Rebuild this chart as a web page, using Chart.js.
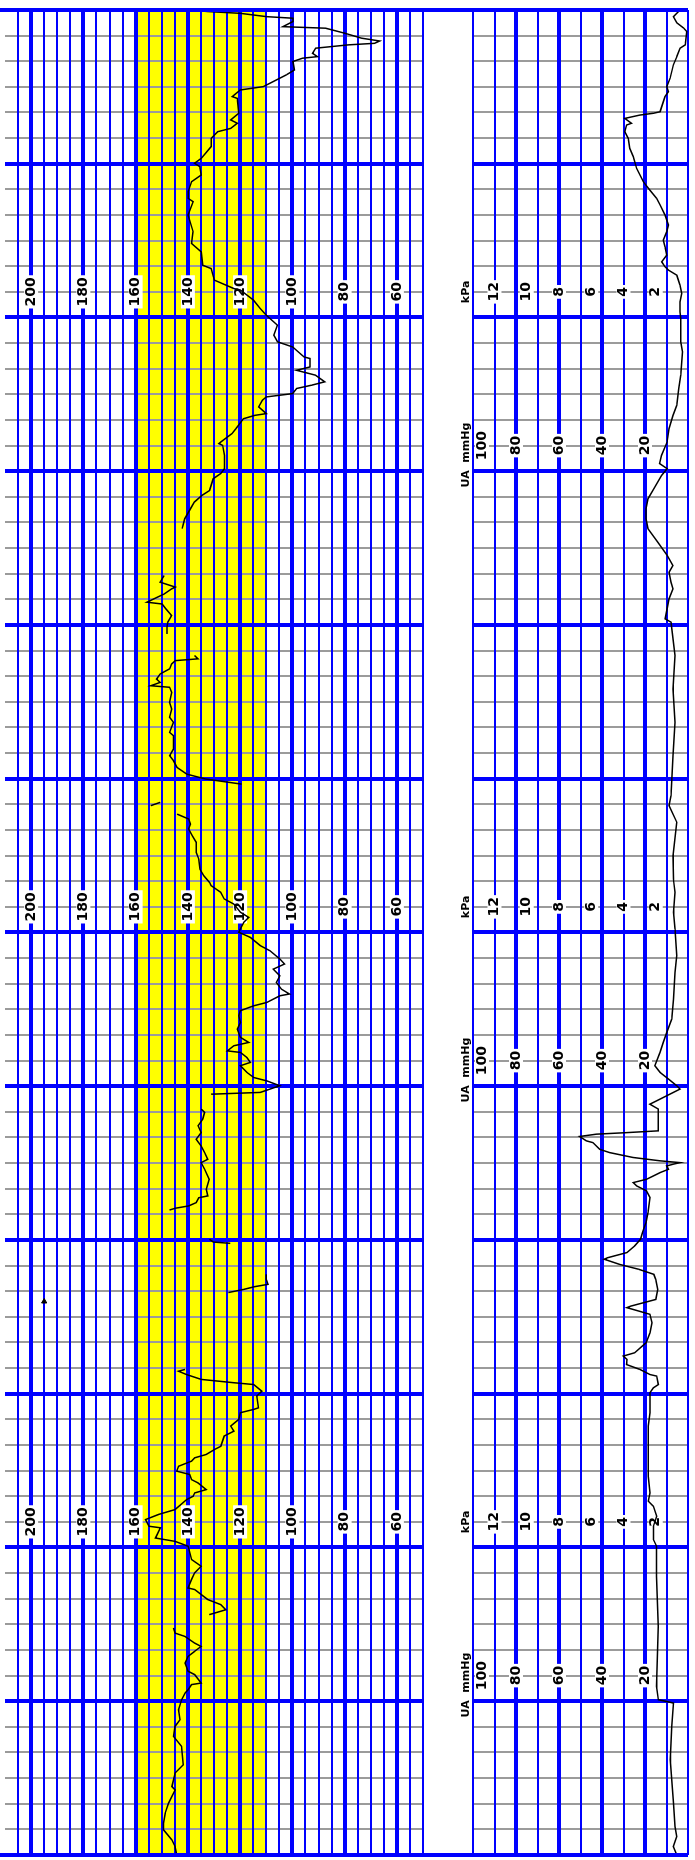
<!DOCTYPE html>
<html lang="en">

<head>
  <title>CTG strip</title>
  <meta charset="UTF-8">
  <meta name="viewport" content="width=device-width, initial-scale=1">
  <script src="https://cdn.jsdelivr.net/npm/chart.js@4.4.1/dist/chart.umd.min.js"></script>
  <style>
    html, body { margin: 0; padding: 0; background: #fff; overflow: hidden; }
    body { width: 695px; height: 1860px; position: relative; }
    /* the strip is drawn landscape and turned a quarter to the left */
    #strip { position: absolute; left: 0; top: 0; width: 1860px; height: 695px;
      transform-origin: 0 0; transform: translate(0, 1860px) rotate(-90deg); }
    #fhrChart { position: absolute; left: 0; top: 0; }
    #uaChart { position: absolute; left: 0; top: 428px; }
  </style>
</head>

<body>
  <div id="strip">
    <canvas id="fhrChart" width="1860" height="428"></canvas>
    <canvas id="uaChart" width="1860" height="267"></canvas>
  </div>
  <script>
    // time in seconds from the start of the strip, null = signal loss
    const fhrSeconds = [0, 3.3, 5.9, 9.8, 12.4, 16.3, 20.2, 25.4, 26.7, 32, 35.2, 42.4, 46.3, 50.2, 52.8, 56.7, 60.6, 63.2, 64.5, 66.5, 67.1, 70.4, 71.7, 74.9, 77.5, 79.5, 81.4, 82.7, 85.3, 86.6, 88.6,
      91,
      93.8, 95.7, 97.7, 99.7, 103.6, 104.2, 107.5, 110.1, 112.7, 115.3, 120.5, 122.4, 123.7, 127.7, 128.3, 130.9, 132.9, 134.8, 138.7, 140, 141.3, 142.6, 145.2, 146.5, 148.5, 149.8, 151.7, 153.7, 155, 156.3, 158.2, 159.5, 163.5, 165.4, 167.4, 170, 172.6, 173.9, 174.5, 179.1, 181, 183.6, 184.3, 185.6, 187.5, 188.8, 189.5,
      200,
      219.5, 220.7, 221.8, 222.7, 224.6, 226.6,
      232,
      238.7, 239.2, 240.3,
      246,
      251.7, 252.4, 253.3, 254.6, 256.5, 257.2, 259.8, 263.7, 267.6, 270.2, 271.5, 274.1, 276.7, 279.3, 281.9, 284.6, 287.2, 289.8, 291.1,
      294,
      296.9, 297.6, 300.2, 302.1, 303.4, 305.4, 308, 309.3, 311.2, 313.2, 313.8, 315.8, 317.1, 319.1, 322.3, 324.9, 327.5, 329.5, 331.4, 332.7, 335.3, 336, 337.9, 340.5, 343.1, 345.7, 347.7, 349.7, 352.9, 354.9, 358.1, 360.1, 361.4, 364, 365.9, 367.9, 371.1, 373.1, 375.7, 378.3, 379.5, 382.1, 384.7, 388.6, 391.2, 395.2, 397.7, 400.4, 402.3, 404.3, 406.2,
      408,
      409.5, 410.8,
      414,
      417.9, 419.9, 421.8, 424.4, 427, 429, 431.6, 436.8, 438.1, 442, 444, 447.2, 449.8, 453.7, 455.7, 456.3, 457.6, 458.9, 460.9, 462.9, 464.8, 466.1, 466.8, 468.1,
      472,
      476.5, 479.1, 481.1, 483.7, 486.3, 488.2, 488.9, 492.1, 494.1, 494.8, 496.7, 499.3,
      508,
      517.6, 518.9, 521.5, 525.4, 528, 530.6, 532.5, 537.1, 539.1, 541, 546.2, 550.1, 550.8, 551.4, 554.7, 556.6, 560.5, 561.8, 562.5, 565.1, 567.7, 569, 570.3, 572.3, 573.6, 574.9, 577.5, 579.4, 580.7, 584, 584.6, 588.5, 590.5, 593.1, 597, 600.9, 603.5, 606.8, 610.7, 611.3, 614.6, 619.1, 620.4, 625.6, 628.9, 633.5, 640, 645.2, 646.5, 649.1, 653, 655.6, 658.9, 660.2, 662.1, 666.7, 669.9, 672.5, 673.8, 675.8, 677.1, 679.7, 685.5, 686.2, 688.8, 690.1, 692.7, 694.7, 696.6, 699.9, 701.2, 701.8, 703.1, 705.1, 706.4, 707, 707.9, 709, 710.9, 712.9, 713.5, 715.5, 716.8, 717.4, 718.7, 719.4, 720];
    const fhrBpm = [144.3, 144.9, 146.1, 149.3, 149.3, 148.7, 147.4, 144.9, 146.1, 144.9, 141.8, 142.4, 145.5, 144.9, 143, 143.6, 142.4, 141.1, 139.9, 138.6, 134.9, 137.4, 139.9, 141.1, 139.9, 137.4, 134.9, 137.4, 141.1, 144.9, 145.5,
      null,
      131.8, 125.5, 127.4, 132.4, 137.4, 139.9, 138.6, 137.4, 134.9, 138.6, 139.9, 144.9, 152.4, 150.5, 154.9, 156.2, 151.2, 144.9, 140.5, 138, 137.4, 133, 136.1, 138.6, 139.3, 144.3, 143.6, 138.6, 137.4, 133, 129.9, 127.4, 126.1, 122.4, 123.6, 120.5, 119.9, 114.8, 113, 113.6, 111.7, 114.8, 122.4, 134.9, 140.5, 143.6, 141.1,
      null,
      124.5, 118.7, 114.4, 109.3, 110, 110,
      null,
      123.8, 130.3, 131.7,
      null,
      147, 144.8, 139.7, 136.8, 135.8, 132.4, 133, 131.8, 133.6, 134.9, 132.4, 133.6, 134.9, 136.8, 134.9, 136.1, 134.3, 133.6, 134.9,
      null,
      131.1, 112.3, 104.8, 109.8, 114.8, 117.4, 119.9, 116.1, 117.4, 119.9, 124.9, 122.4, 116.7, 119.9, 121.1, 119.9, 120.5, 119.9, 114.8, 109.8, 104.8, 101.1, 104.2, 106.1, 104.8, 107.3, 103, 104.8, 108.6, 112.3, 116.1, 120.5, 119.9, 118.6, 116.7, 119.9, 122.4, 126.1, 127.4, 131.1, 131.7, 133.9, 135.4, 135.8, 136.8, 136.8, 138.3, 139.7, 139, 139.7, 144.1,
      null,
      154.2, 150.6,
      null,
      119.4, 133.2, 140.4, 144.1, 145.5, 147, 145.5, 145.5, 147, 145.5, 147, 146.2, 147, 146.2, 147, 154.2, 150.6, 152, 150.6, 147, 146.2, 144.8, 136.1, 137.5,
      null,
      148, 148, 147.7, 146.2, 148.4, 149.9, 155.7, 149.1, 146.2, 144.8, 150.6, 149.1,
      null,
      142.2, 141.9, 141.2, 139, 137.5, 134.6, 131.7, 130.3, 127.4, 126, 126, 126.7, 128.1, 127.4, 123.1, 121.6, 118.7, 114.4, 110, 112.9, 111.5, 110, 99.9, 98.4, 92.6, 87.6, 91.2, 98.4, 93.3, 93.3, 95.5, 99.9, 105.7, 107.1, 105.7, 110, 112.3, 114.9, 119.9, 122.4, 129.9, 131.1, 134.3, 134.9, 138.6, 138, 139.9, 138, 139.9, 139.9, 138.6, 134.9, 135.5, 137.4, 134.9, 131.1, 131.1, 128.6, 123.6, 121.1, 123.6, 120.5, 121.1, 123, 119.9, 111.1, 106.1, 102.3, 99.2, 99.8, 96.1, 90.4, 92.3, 91.1, 78.5, 68.5, 66.6, 73.5, 79.8, 87.3, 103.6, 99.8, 99.8, 109.8, 119.9, 132.4, 138.6];

    const uaSeconds = [0, 3.3, 7.2, 11.1, 20.2, 29.3, 37.2, 50.2, 59.3, 59.9, 60.6, 65.8, 89.2, 108.8, 120.5, 123.1, 128.3, 132.2, 136.1, 138.1, 141.3, 147.8, 156.9, 167.4, 172.6, 180.4, 182.3, 183.6, 186.9, 187.5, 189.5, 191.4, 193.4, 194.7, 196, 199.9, 203.8, 207.7, 211, 212.3, 213.6, 214.2, 216.8, 220.7, 224.6, 226.6, 228.6, 230.5, 232.5, 233.1, 235.1, 237.7, 240.3, 242.9, 246.8, 250.7, 256.6, 259.2, 261.1, 262.4, 263.7, 265, 266.3, 267.6, 268.9, 269.6, 270.2, 270.9, 272.2, 274.1, 275.4, 278, 278.7, 280.4, 281.3, 281.9, 282.6, 291.1, 293, 295, 297.6, 298.9, 300.2, 302.8, 305.4, 308, 313.2, 317.1, 321, 326.2, 334, 344.4, 351, 361.4, 367.9, 375.7, 380.9, 389.9, 403, 409.5, 413.4, 429, 442, 455, 468.1, 481.1, 482.4, 490.2, 494.1, 496.7, 500.6, 503.2, 507.2, 512.4, 517.6, 521.5, 525.4, 529.3, 533.2, 538.4, 541, 543, 546.2, 551.4, 556.6, 561.8, 565.7, 572.3, 577.5, 586.6, 590.5, 599.6, 602.2, 606.1, 609.4, 612.6, 616.5, 618.5, 619.8, 621.7, 624.3, 627.6, 630.2, 633.5, 636.1, 640, 643.9, 646.5, 649.7, 653, 658.2, 662.8, 666, 669.9, 672.5, 675.1, 675.8, 677.7, 679, 679.7, 680.3, 686.2, 688.1, 690.1, 693.4, 698.6, 701.8, 705.1, 706.4, 711.6, 713, 715, 717.4, 720];
    const uaMmHg = [5.2, 6.8, 5.2, 6, 6.8, 7.6, 8.3, 7.6, 6.8, 9.9, 13.8, 14.6, 13.8, 14.6, 14.6, 16.1, 16.1, 14.6, 16.1, 18.5, 17.7, 18.5, 18.5, 18.5, 17.7, 17.7, 16.1, 13.8, 14.6, 17.7, 22.4, 28.6, 28.4, 30.1, 24.8, 19.5, 17.7, 16.8, 17.7, 23, 28.4, 26.6, 15, 14.1, 15, 15.9, 23, 31.9, 39, 37.3, 28.4, 24.8, 22.1, 21.2, 19.5, 18.6, 17.7, 19.3, 23.9, 25.5, 19.3, 16.1, 13, 9.1, 9.9, 6.8, 3.7, 13, 25.5, 36.4, 41.1, 44.2, 47.3, 50.4, 42.6, 28.6, 13.8, 13.8, 17.7, 13, 6.8, 3.7, 5.2, 9.1, 13, 15.4, 13, 11.5, 9.9, 7.6, 6.8, 6, 5.2, 6, 6.8, 6, 6.8, 7, 5.2, 8.8, 7.9, 7, 6.1, 7, 6.1, 7.9, 10.6, 8.8, 7, 7.9, 8.8, 7, 9.7, 14.1, 18.6, 19.5, 19.5, 18.6, 15.9, 12.3, 9.7, 13.2, 12.3, 9.7, 8.8, 7, 5.2, 4.3, 3.4, 2.6, 3.4, 3.4, 3.7, 3.7, 2.9, 3.7, 5.2, 9.1, 10.7, 12.2, 9.9, 10.7, 11.5, 9.9, 9.1, 10.7, 13, 14.6, 17.7, 20.8, 23.9, 25.5, 27.1, 27.8, 29.4, 28.6, 26.3, 29.4, 22.4, 16.1, 13, 10.7, 9.1, 9.9, 8.3, 6.8, 5.2, 3.7, 1.3, 0.6, 2.1, 5.2, 6.8, 3.7];

    const eventSeconds = [216];
    const eventBpm = [195];

    const fhrGridValues = [50, 55, 60, 65, 70, 75, 80, 85, 90, 95, 100, 105, 110, 115, 120, 125, 130, 135, 140, 145, 150, 155, 160, 165, 170, 175, 180, 185, 190, 195, 200, 205];
    const uaGridValues = [0, 10, 20, 30, 40, 50, 60, 70, 80, 90, 100];
    const fhrTickLabels = [200, 180, 160, 140, 120, 100, 80, 60];
    const uaTickLabels = [100, 80, 60, 40, 20];
    const kpaTickLabels = [12, 10, 8, 6, 4, 2];
    const fhrLabelSeconds = [130, 370, 610];
    const uaLabelSeconds = [70, 310, 550];
    const normalBand = [110, 160];

    const BLUE = '#0000ff';
    const GRAY = '#9b9b9b';
    const KPA_TO_MMHG = 7.50062;

    const timeGrid = [];
    for (let s = 0; s <= 720; s += 10) timeGrid.push(s);

    function points(xs, ys) {
      return xs.map((x, i) => ({ x: x, y: ys[i] }));
    }

    function timeAxis() {
      return {
        type: 'linear', min: 0, max: 720,
        ticks: { display: false, autoSkip: false },
        afterBuildTicks: scale => { scale.ticks = timeGrid.map(v => ({ value: v })); },
        afterFit: scale => { scale.height = 0; },
        border: { display: false },
        grid: {
          z: -1,
          drawTicks: false,
          color: c => c.tick.value % 60 === 0 ? BLUE : GRAY,
          lineWidth: c => c.tick.value % 60 === 0 ? 4 : 2
        }
      };
    }

    function valueAxis(min, max, gridValues, thickEvery) {
      return {
        type: 'linear', min: min, max: max,
        ticks: { display: false, autoSkip: false },
        afterBuildTicks: scale => { scale.ticks = gridValues.map(v => ({ value: v })); },
        afterFit: scale => { scale.width = 0; },
        border: { display: false },
        grid: {
          drawTicks: false,
          color: BLUE,
          lineWidth: c => (c.tick.value % thickEvery === 0 && c.tick.value !== min && c.tick.value !== max) ? 4 : 2
        }
      };
    }

    function drawLabel(ctx, text, x, y) {
      ctx.font = 'bold 14px "DejaVu Sans"';
      const w = ctx.measureText(text).width;
      ctx.fillStyle = '#ffffff';
      ctx.fillRect(x - w / 2 - 2, y - 7, w + 4, 14);
      ctx.fillStyle = '#000000';
      ctx.textAlign = 'center';
      ctx.textBaseline = 'middle';
      ctx.fillText(text, x, y);
    }

    // start and end of the strip run across the whole paper
    function edgeLines(toBottom) {
      return {
        id: 'edgeLines',
        afterDraw(chart) {
          const { ctx, scales, chartArea } = chart;
          ctx.save();
          ctx.strokeStyle = BLUE;
          ctx.lineWidth = 4;
          [0, 720].forEach(t => {
            const x = scales.x.getPixelForValue(t);
            ctx.beginPath();
            ctx.moveTo(x, 0);
            ctx.lineTo(x, toBottom ? chart.height : chartArea.bottom);
            ctx.stroke();
          });
          ctx.restore();
        }
      };
    }

    const fhrDecor = {
      id: 'fhrDecor',
      beforeDraw(chart) {
        const { ctx, chartArea, scales } = chart;
        const top = scales.y.getPixelForValue(normalBand[1]);
        const bottom = scales.y.getPixelForValue(normalBand[0]);
        ctx.save();
        ctx.fillStyle = '#ffff00';
        ctx.fillRect(chartArea.left, top, chartArea.right - chartArea.left, bottom - top);
        ctx.restore();
      },
      beforeDatasetsDraw(chart) {
        const { ctx, scales } = chart;
        ctx.save();
        fhrLabelSeconds.forEach(t => {
          fhrTickLabels.forEach(v => {
            drawLabel(ctx, String(v), scales.x.getPixelForValue(t), scales.y.getPixelForValue(v));
          });
        });
        ctx.restore();
      }
    };

    const uaDecor = {
      id: 'uaDecor',
      beforeDatasetsDraw(chart) {
        const { ctx, scales, chartArea } = chart;
        ctx.save();
        uaLabelSeconds.forEach(t => {
          const x = scales.x.getPixelForValue(t);
          uaTickLabels.forEach(v => {
            let y = scales.y.getPixelForValue(v);
            if (v === 100) y += 9;
            drawLabel(ctx, String(v), x, y);
          });
          ctx.font = 'bold 11px "DejaVu Sans"';
          ctx.fillStyle = '#000000';
          ctx.textAlign = 'right';
          ctx.textBaseline = 'bottom';
          ctx.fillText('UA  mmHg', x + 23, chartArea.top - 1);
        });
        fhrLabelSeconds.forEach(t => {
          const x = scales.x.getPixelForValue(t);
          kpaTickLabels.forEach(v => {
            drawLabel(ctx, String(v), x, scales.y.getPixelForValue(v * KPA_TO_MMHG));
          });
          ctx.font = 'bold 11px "DejaVu Sans"';
          ctx.fillStyle = '#000000';
          ctx.textAlign = 'center';
          ctx.textBaseline = 'bottom';
          ctx.fillText('kPa', x, chartArea.top - 1);
        });
        ctx.restore();
      }
    };

    const common = {
      responsive: false,
      animation: false,
      events: [],
      plugins: { legend: { display: false }, tooltip: { enabled: false } }
    };

    new Chart(document.getElementById('fhrChart'), {
      type: 'line',
      data: {
        datasets: [{
          data: points(fhrSeconds, fhrBpm),
          borderColor: '#000000',
          borderWidth: 1.5,
          pointRadius: 0,
          spanGaps: false,
          tension: 0,
          fill: false
        }, {
          data: points(eventSeconds, eventBpm),
          showLine: false,
          pointStyle: 'triangle',
          rotation: 90,
          pointRadius: 3,
          backgroundColor: '#000000',
          borderColor: '#000000'
        }]
      },
      options: {
        ...common,
        layout: { padding: { left: 5, right: 10, top: 0, bottom: 2 } },
        scales: {
          x: timeAxis(),
          y: valueAxis(50, 210, fhrGridValues, 20)
        }
      },
      plugins: [fhrDecor, edgeLines(true)]
    });

    new Chart(document.getElementById('uaChart'), {
      type: 'line',
      data: {
        datasets: [{
          data: points(uaSeconds, uaMmHg),
          borderColor: '#000000',
          borderWidth: 1.5,
          pointRadius: 0,
          tension: 0,
          fill: false
        }]
      },
      options: {
        ...common,
        layout: { padding: { left: 5, right: 10, top: 45, bottom: 7 } },
        scales: {
          x: timeAxis(),
          y: valueAxis(0, 100, uaGridValues, 20)
        }
      },
      plugins: [uaDecor, edgeLines(false)]
    });
  </script>
</body>

</html>
